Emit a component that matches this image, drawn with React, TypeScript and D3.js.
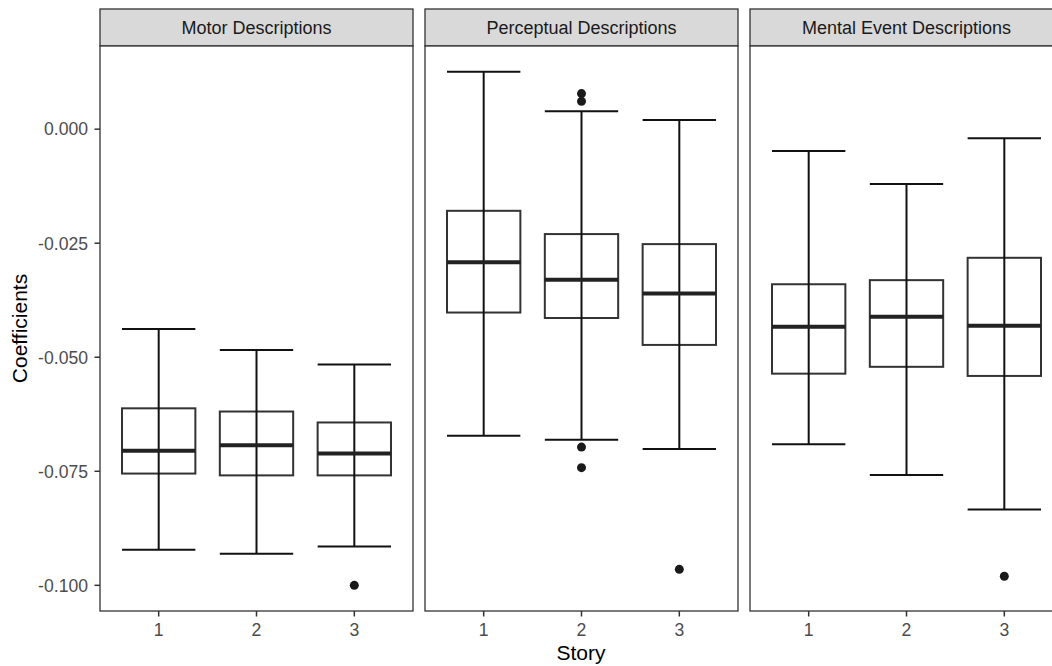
import React from "react";
import * as d3 from "d3";

// Facets and x categories
const panels = ["Motor Descriptions", "Perceptual Descriptions", "Mental Event Descriptions"];
const stories = ["1", "2", "3"];

// Box statistics per facet (rows) and story (columns)
const whiskerHigh = [
  [-0.0438, -0.0484, -0.0516],
  [0.0126, 0.0039, 0.002],
  [-0.0048, -0.012, -0.002],
];
const upperQuartile = [
  [-0.0612, -0.0619, -0.0643],
  [-0.0179, -0.023, -0.0252],
  [-0.034, -0.0331, -0.0282],
];
const medians = [
  [-0.0705, -0.0693, -0.0711],
  [-0.0292, -0.033, -0.036],
  [-0.0433, -0.0411, -0.0431],
];
const lowerQuartile = [
  [-0.0755, -0.0759, -0.0759],
  [-0.0402, -0.0414, -0.0473],
  [-0.0536, -0.0521, -0.0541],
];
const whiskerLow = [
  [-0.0922, -0.0931, -0.0915],
  [-0.0672, -0.0681, -0.0701],
  [-0.0691, -0.0758, -0.0834],
];
const outliers = [
  [[], [], [-0.1]],
  [[], [0.0078, 0.0061, -0.0697, -0.0742], [-0.0965]],
  [[], [], [-0.098]],
];

const yTicks = [0, -0.025, -0.05, -0.075, -0.1];

const W = 1052;
const H = 666;
const plotLeft = 100;
const panelW = 313;
const gap = 12;
const stripTop = 9;
const stripH = 37;
const panelTop = stripTop + stripH;
const panelBottom = 611;
const font = "'Liberation Sans', Arial, Helvetica, sans-serif";

// plain hyphen-minus for negative tick labels
const fmt = (v: number) => d3.format(".3f")(v).replace("\u2212", "-");

export default function App() {
  const allVals: number[] = [];
  panels.forEach((_, p) => {
    allVals.push(...whiskerHigh[p], ...whiskerLow[p]);
    outliers[p].forEach((o) => allVals.push(...o));
  });
  const [lo, hi] = d3.extent(allVals) as [number, number];
  const pad = (hi - lo) * 0.05;
  const y = d3.scaleLinear().domain([lo - pad, hi + pad]).range([panelBottom, panelTop]);

  const x = d3
    .scaleLinear()
    .domain([0.4, stories.length + 0.6])
    .range([0, panelW]);
  const boxHalf = (x(1.75) - x(1)) / 2;

  return (
    <svg
      width={W}
      height={H}
      style={{ position: "absolute", left: 0, top: 0, background: "#fff" }}
      fontFamily={font}
    >
      {/* y axis */}
      {yTicks.map((t) => (
        <g key={t}>
          <line x1={plotLeft - 5.5} x2={plotLeft} y1={y(t)} y2={y(t)} stroke="#333" strokeWidth={1.5} />
          <text
            x={plotLeft - 12}
            y={y(t)}
            dy="0.36em"
            textAnchor="end"
            fontSize={17.6}
            fill="#4d4d4d"
          >
            {fmt(t)}
          </text>
        </g>
      ))}
      <text
        transform={`translate(27,${(panelTop + panelBottom) / 2}) rotate(-90)`}
        textAnchor="middle"
        fontSize={21}
        fill="#000"
      >
        Coefficients
      </text>

      {panels.map((name, p) => {
        const left = plotLeft + p * (panelW + gap);
        return (
          <g key={name} transform={`translate(${left},0)`}>
            {/* strip */}
            <rect
              x={0}
              y={stripTop}
              width={panelW}
              height={stripH}
              fill="#d9d9d9"
              stroke="#333"
              strokeWidth={1.3}
            />
            <text
              x={panelW / 2}
              y={stripTop + stripH / 2}
              dy="0.36em"
              textAnchor="middle"
              fontSize={18}
              fill="#1a1a1a"
            >
              {name}
            </text>
            <rect
              x={0}
              y={panelTop}
              width={panelW}
              height={panelBottom - panelTop}
              fill="#fff"
              stroke="none"
            />

            {stories.map((s, i) => {
              const cx = x(i + 1);
              return (
                <g key={s}>
                  <rect
                    x={cx - boxHalf}
                    y={y(upperQuartile[p][i])}
                    width={boxHalf * 2}
                    height={y(lowerQuartile[p][i]) - y(upperQuartile[p][i])}
                    fill="#fff"
                    stroke="#333"
                    strokeWidth={2}
                  />
                  <line
                    x1={cx}
                    x2={cx}
                    y1={y(whiskerHigh[p][i])}
                    y2={y(whiskerLow[p][i])}
                    stroke="#111"
                    strokeWidth={2}
                  />
                  <line
                    x1={cx - boxHalf}
                    x2={cx + boxHalf}
                    y1={y(whiskerHigh[p][i])}
                    y2={y(whiskerHigh[p][i])}
                    stroke="#111"
                    strokeWidth={2}
                  />
                  <line
                    x1={cx - boxHalf}
                    x2={cx + boxHalf}
                    y1={y(whiskerLow[p][i])}
                    y2={y(whiskerLow[p][i])}
                    stroke="#111"
                    strokeWidth={2}
                  />
                  <line
                    x1={cx - boxHalf}
                    x2={cx + boxHalf}
                    y1={y(medians[p][i])}
                    y2={y(medians[p][i])}
                    stroke="#222"
                    strokeWidth={4}
                  />
                  {outliers[p][i].map((o, k) => (
                    <circle key={k} cx={cx} cy={y(o)} r={4.5} fill="#1a1a1a" />
                  ))}
                </g>
              );
            })}

            <rect
              x={0}
              y={panelTop}
              width={panelW}
              height={panelBottom - panelTop}
              fill="none"
              stroke="#333"
              strokeWidth={1.3}
            />

            {/* x axis */}
            {stories.map((s, i) => (
              <g key={s}>
                <line
                  x1={x(i + 1)}
                  x2={x(i + 1)}
                  y1={panelBottom}
                  y2={panelBottom + 5.5}
                  stroke="#333"
                  strokeWidth={1.5}
                />
                <text
                  x={x(i + 1)}
                  y={636}
                  textAnchor="middle"
                  fontSize={17.6}
                  fill="#4d4d4d"
                >
                  {s}
                </text>
              </g>
            ))}
          </g>
        );
      })}

      <text x={581} y={660} textAnchor="middle" fontSize={21} fill="#000">
        Story
      </text>
    </svg>
  );
}
